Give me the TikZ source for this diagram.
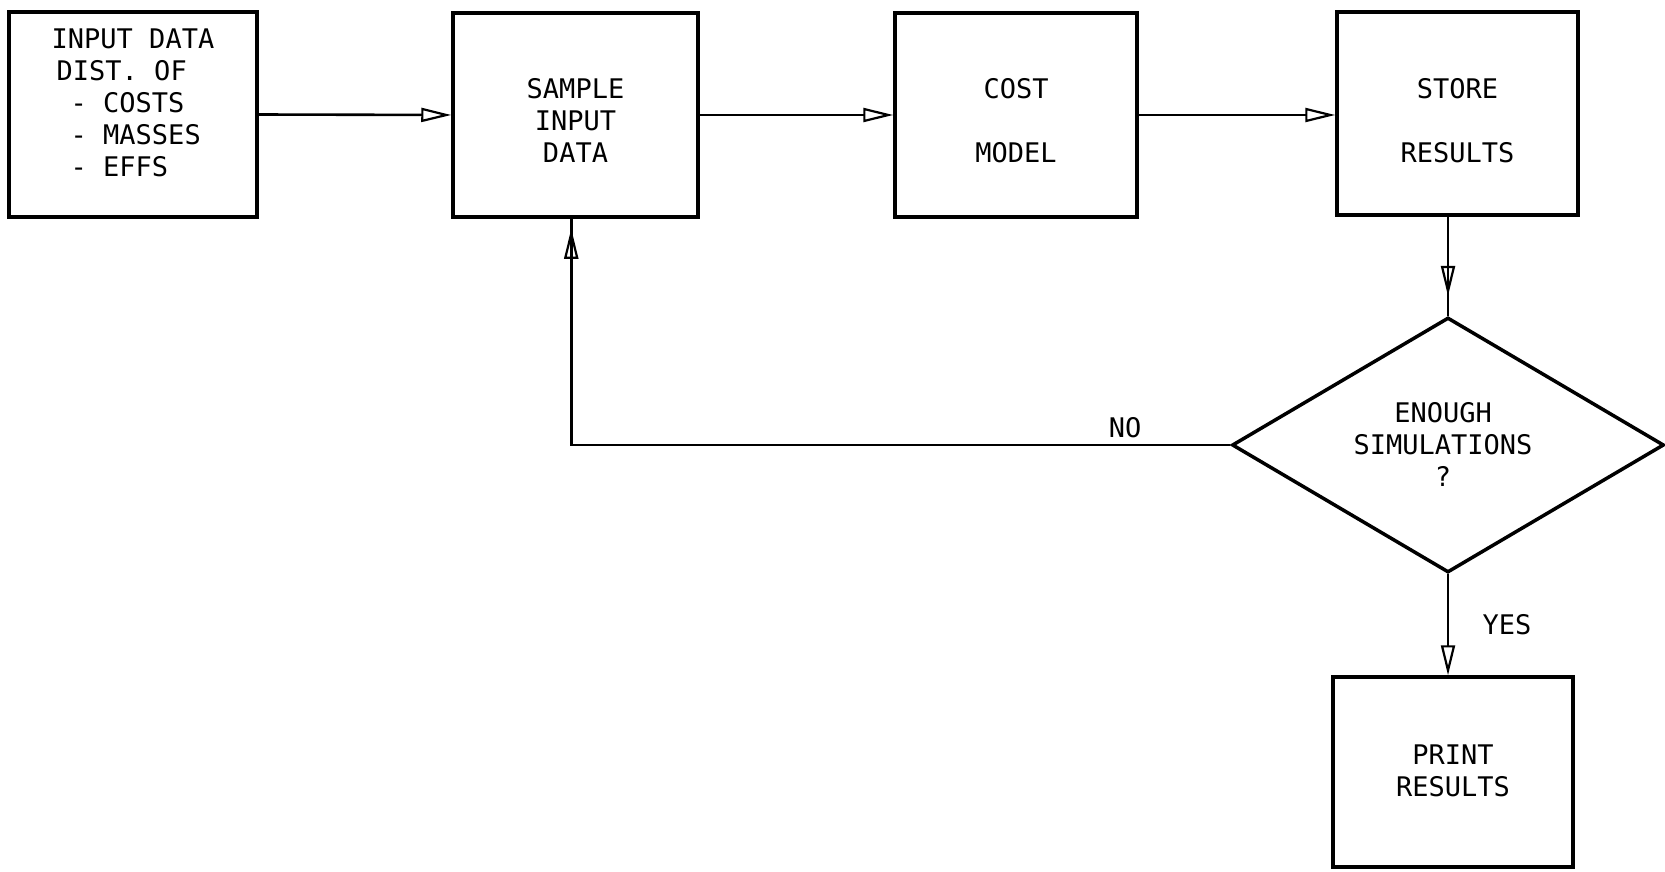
\documentclass[tikz,border=0pt]{standalone}
\usepackage{fontspec}
\setmonofont{DejaVu Sans Mono}
\usetikzlibrary{arrows.meta,shapes.geometric,decorations.markings,calc}
\begin{document}
\begin{tikzpicture}[x=1pt,y=-1pt,
  ftip/.tip={Triangle[open,length=30pt,width=14pt,line width=2.2pt]},
  box/.style={draw,line width=3.5pt,rectangle,inner sep=0pt},
  lbl/.style={font=\ttfamily\fontsize{27}{32}\selectfont,align=center,inner sep=0pt},
  conn/.style={line width=2.6pt},
  arrowat/.style={postaction={decorate},decoration={markings,mark=at position #1 with {\arrow{ftip}}}}]
\useasboundingbox (0,0) rectangle (1665,872);
% boxes
\node[box,minimum width=248pt,minimum height=205pt] (b1) at (133,114.5) {};
\node[box,minimum width=245pt,minimum height=204pt] (b2) at (575.5,115) {};
\node[box,minimum width=242pt,minimum height=204pt] (b3) at (1016,115) {};
\node[box,minimum width=241pt,minimum height=203pt] (b4) at (1457.5,113.5) {};
\node[draw,line width=3.5pt,diamond,inner sep=0pt,minimum width=432pt,minimum height=255pt] (d) at (1448,445) {};
\node[box,minimum width=240pt,minimum height=190pt] (b5) at (1453,772) {};
% texts
\node[lbl,align=left] (t1) at (133,103) {INPUT DATA\\\hspace*{5pt}DIST. OF\\\hspace*{19pt}- COSTS\\\hspace*{19pt}- MASSES\\\hspace*{19pt}- EFFS};
\node[lbl] (t2) at (575.5,120) {SAMPLE\\INPUT\\DATA};
\node[lbl] (t3) at (1016,121) {COST\\[32pt]MODEL};
\node[lbl] (t4) at (1457.5,121) {STORE\\[32pt]RESULTS};
\node[lbl] (t5) at (1443,444) {ENOUGH\\SIMULATIONS\\?};
\node[lbl] (t6) at (1453,771) {PRINT\\RESULTS};
\node[lbl] (no) at (1125,428) {NO};
\node[lbl] (yes) at (1507,625) {YES};
% connectors
\draw[conn,-ftip] (b1.east) -- (b2.west);
\draw[conn,-ftip] (b2.east) -- (b3.west);
\draw[conn,-ftip] (b3.east) -- (b3.east -| b4.west);
\draw[conn,arrowat=0.8] (d.north |- b4.south) -- (d.north);
\draw[conn,-ftip] (d.south) -- (d.south |- b5.north);
\coordinate (up) at ($(b2.south west)+(120,0)$);
\draw[conn,arrowat=-10pt] (d.west) -| (up);
\end{tikzpicture}
\end{document}
